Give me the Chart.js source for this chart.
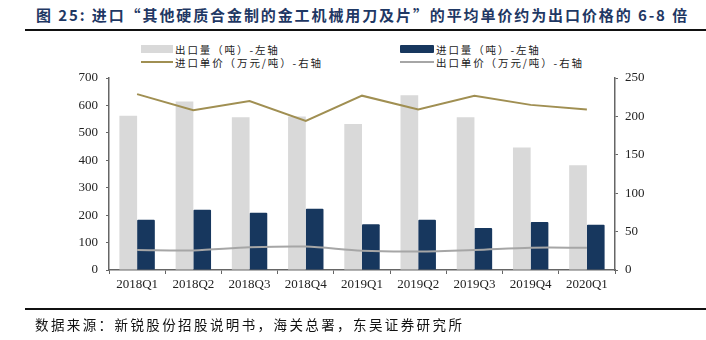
<!DOCTYPE html>
<html lang="zh">
<head>
<meta charset="UTF-8" />
<title>进口单价与出口单价</title>
<script src="https://cdn.jsdelivr.net/npm/chart.js@4.4.1/dist/chart.umd.min.js"></script>
<style>
  body { margin: 0; background: #fff; }
  #wrap { position: relative; width: 706px; height: 340px; overflow: hidden; }
  canvas { position: absolute; left: 0; top: 0; }
  .title {
    position: absolute; left: 36px; top: 4px;
    font: bold 15px "Noto Sans CJK SC", sans-serif; letter-spacing: 1.9px;
    color: #1f3864; white-space: nowrap;
  }
  .rule { position: absolute; left: 25px; right: 0; height: 2px; background: #111; }
  .source {
    position: absolute; left: 35px; top: 314px;
    font: 13.5px "Noto Sans CJK SC", sans-serif; letter-spacing: 2.4px;
    color: #111; white-space: nowrap;
  }
  .lg { position: absolute; font: 10.5px "Noto Sans CJK SC", sans-serif; letter-spacing: 1.9px; color: #222; white-space: nowrap; line-height: 13px; }
  .sw { position: absolute; }
</style>
</head>
<body>
<div id="wrap">
  <div class="title">图 25: 进口“其他硬质合金制的金工机械用刀及片”的平均单价约为出口价格的 6-8 倍</div>
  <div class="rule" style="top:29px"></div>

  <div class="sw" style="left:141px;top:45px;width:32px;height:8px;background:#d9d9d9"></div>
  <div class="lg" style="left:175px;top:43px">出口量（吨）-左轴</div>
  <div class="sw" style="left:400px;top:45px;width:34px;height:8px;background:#17375e;border-radius:1px"></div>
  <div class="lg" style="left:436px;top:43px">进口量（吨）-左轴</div>
  <div class="sw" style="left:141px;top:61px;width:32px;height:2px;background:#a08f52"></div>
  <div class="lg" style="left:175px;top:56px">进口单价（万元/吨）-右轴</div>
  <div class="sw" style="left:400px;top:61px;width:34px;height:2px;background:#a6a6a6"></div>
  <div class="lg" style="left:436px;top:56px">出口单价（万元/吨）-右轴</div>

  <canvas id="chart" width="706" height="340"></canvas>

  <div class="rule" style="top:308px"></div>
  <div class="source">数据来源：新锐股份招股说明书，海关总署，东吴证券研究所</div>
</div>

<script>
const quarters = ['2018Q1', '2018Q2', '2018Q3', '2018Q4', '2019Q1', '2019Q2', '2019Q3', '2019Q4', '2020Q1'];
// 吨，左轴
const exportQty = [562, 614, 557, 560, 532, 637, 557, 447, 382];
const importQty = [183, 220, 209, 223, 167, 183, 153, 175, 165];
// 万元/吨，右轴
const importPrice = [229, 208, 220, 194, 227, 209, 227, 215, 209];
const exportPrice = [26, 25.5, 29.5, 30.5, 25, 24, 26, 29, 29];

const axisColor = '#666';
const tickFont = { family: '"Liberation Serif", serif', size: 13 };

new Chart(document.getElementById('chart'), {
  data: {
    labels: quarters,
    datasets: [
      {
        type: 'bar', label: '出口量（吨）-左轴', data: exportQty, yAxisID: 'y',
        backgroundColor: '#d9d9d9', categoryPercentage: 0.63, barPercentage: 1, order: 2
      },
      {
        type: 'bar', label: '进口量（吨）-左轴', data: importQty, yAxisID: 'y',
        backgroundColor: '#17375e', borderRadius: 1, categoryPercentage: 0.63, barPercentage: 1, order: 3
      },
      {
        type: 'line', label: '进口单价（万元/吨）-右轴', data: importPrice, yAxisID: 'y1',
        borderColor: '#a08f52', borderWidth: 2, pointRadius: 0, tension: 0, order: 0
      },
      {
        type: 'line', label: '出口单价（万元/吨）-右轴', data: exportPrice, yAxisID: 'y1',
        borderColor: '#a6a6a6', borderWidth: 2, pointRadius: 0, tension: 0.3, order: 1
      }
    ]
  },
  options: {
    responsive: false,
    animation: false,
    layout: { padding: { top: 78, bottom: 40, left: 0, right: 0 } },
    plugins: { legend: { display: false }, tooltip: { enabled: false } },
    scales: {
      x: {
        offset: true,
        grid: { offset: true, drawOnChartArea: false, tickLength: 4, color: axisColor },
        border: { color: axisColor, width: 1.5 },
        ticks: { color: '#222', font: tickFont, padding: 3, maxRotation: 0 },
        afterFit: a => { a.height = 30; }
      },
      y: {
        position: 'left', min: 0, max: 700,
        grid: { drawOnChartArea: false, tickLength: 3, color: axisColor },
        border: { color: axisColor, width: 1.5 },
        ticks: { stepSize: 100, color: '#222', font: tickFont, padding: 8 },
        afterFit: a => { a.width = 109; }
      },
      y1: {
        position: 'right', min: 0, max: 250,
        grid: { drawOnChartArea: false, tickLength: 3, color: axisColor },
        border: { color: axisColor, width: 1.5 },
        ticks: { stepSize: 50, color: '#222', font: tickFont, padding: 7 },
        afterFit: a => { a.width = 91; }
      }
    }
  }
});
</script>
</body>
</html>
